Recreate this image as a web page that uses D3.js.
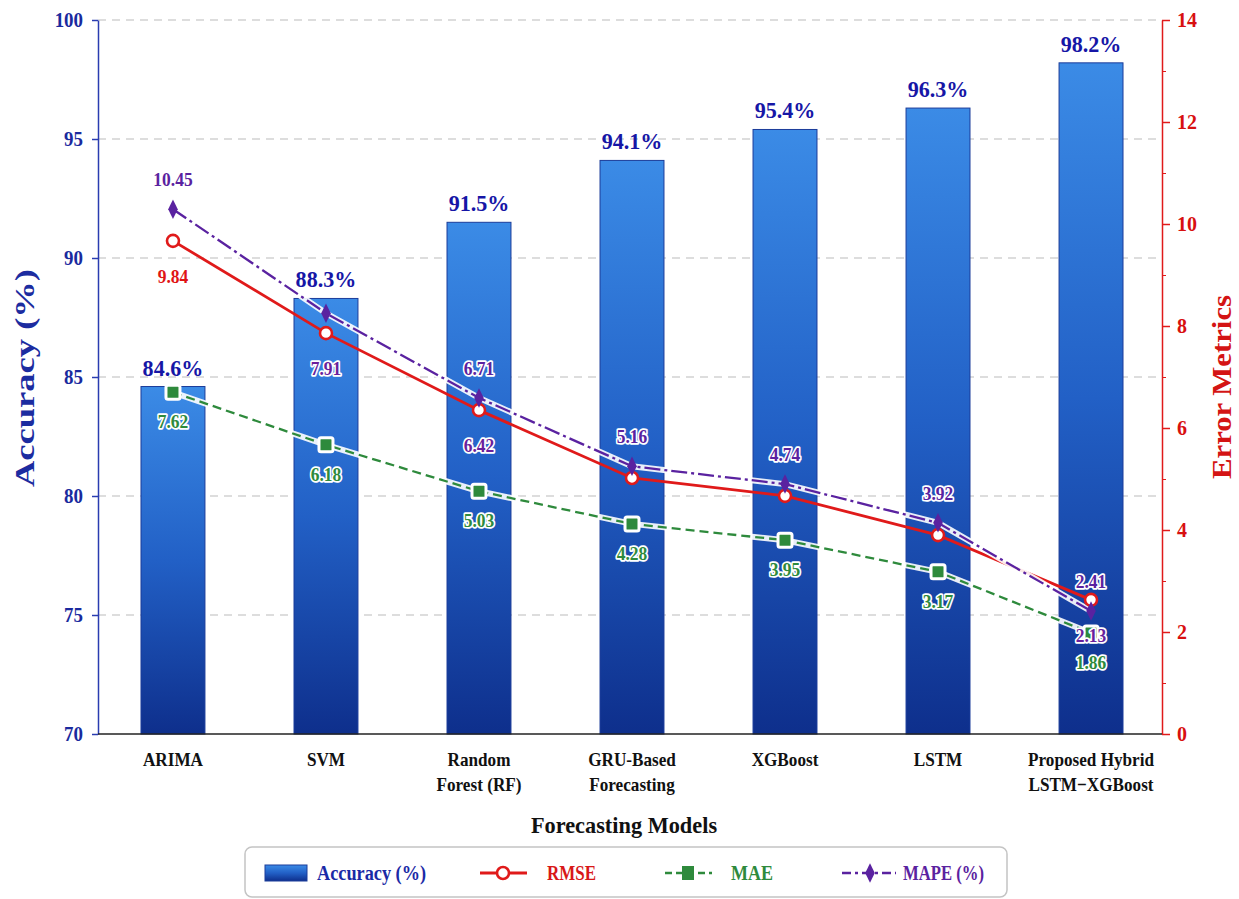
<!DOCTYPE html>
<html>
<head>
<meta charset="utf-8">
<script src="https://cdn.jsdelivr.net/npm/d3@7/dist/d3.min.js"></script>
<style>
  body { margin: 0; background: #fff; }
  text { font-family: "Liberation Serif", "Times New Roman", serif; }
</style>
</head>
<body>
<div id="container"></div>
<script>
// categories + values
var models = ["ARIMA", "SVM", "Random\nForest (RF)", "GRU-Based\nForecasting", "XGBoost", "LSTM", "Proposed Hybrid\nLSTM\u2212XGBoost"];
var accuracy = [84.6, 88.3, 91.5, 94.1, 95.4, 96.3, 98.2];
var rmse = [9.67, 7.86, 6.35, 5.02, 4.67, 3.90, 2.63];
var mae = [6.70, 5.67, 4.76, 4.12, 3.80, 3.18, 1.98];
var mape = [10.29, 8.25, 6.59, 5.25, 4.90, 4.14, 2.41];
// printed point labels (null = not shown)
var rmseLabels = ["9.84", "7.91", "6.42", null, null, null, "2.13"];
var maeLabels = ["7.62", "6.18", "5.03", "4.28", "3.95", "3.17", "1.86"];
var mapeLabels = ["10.45", null, "6.71", "5.16", "4.74", "3.92", "2.41"];
var accTicks = [70, 75, 80, 85, 90, 95, 100];
var errTicks = [0, 2, 4, 6, 8, 10, 12, 14];

(function () {
  var width = 1239, height = 899;
  var mLeft = 98, mRight = 1162, mTop = 20, mBottom = 734;

  var blue = "#1a2a9e", red = "#e01a1a", green = "#2e8a3c", purple = "#5a22a0";

  var svg = d3.select("#container").append("svg").attr("width", width).attr("height", height);

  // the original uses a narrow serif, squeeze glyphs a bit
  function condense(sel, f) {
    sel.each(function () {
      var w = this.getComputedTextLength();
      d3.select(this).attr("textLength", w * f).attr("lengthAdjust", "spacingAndGlyphs");
    });
  }

  var defs = svg.append("defs");
  var grad = defs.append("linearGradient").attr("id", "barGrad").attr("x1", 0).attr("y1", 0).attr("x2", 0).attr("y2", 1);
  grad.append("stop").attr("offset", "0%").attr("stop-color", "#3b8be6");
  grad.append("stop").attr("offset", "50%").attr("stop-color", "#2260c6");
  grad.append("stop").attr("offset", "100%").attr("stop-color", "#0e2f8c");

  var x = d3.scaleBand().domain(models).range([mLeft, 1166]).paddingInner(0.582).paddingOuter(0.281);
  var yL = d3.scaleLinear().domain([70, 100]).range([mBottom, mTop]);
  var yR = d3.scaleLinear().domain([0, 14]).range([mBottom, mTop]);
  var cx = function (i) { return x(models[i]) + x.bandwidth() / 2; };
  var idx = d3.range(models.length);

  // grid
  svg.append("g").selectAll("line").data(accTicks.slice(1)).enter().append("line")
    .attr("x1", mLeft).attr("x2", mRight)
    .attr("y1", function (d) { return yL(d); }).attr("y2", function (d) { return yL(d); })
    .attr("stroke", "#d2d2d2").attr("stroke-width", 1.3).attr("stroke-dasharray", "8,6");

  // bars
  svg.append("g").selectAll("rect").data(idx).enter().append("rect")
    .attr("x", function (i) { return x(models[i]); })
    .attr("y", function (i) { return yL(accuracy[i]); })
    .attr("width", x.bandwidth())
    .attr("height", function (i) { return mBottom - yL(accuracy[i]); })
    .attr("fill", "url(#barGrad)").attr("stroke", "#1b3c9a").attr("stroke-width", 1);

  svg.append("g").selectAll("text").data(idx).enter().append("text")
    .attr("x", cx).attr("y", function (i) { return yL(accuracy[i]) - 11; })
    .attr("text-anchor", "middle").attr("font-size", 24).attr("font-weight", "bold")
    .attr("fill", "#1616a6").text(function (i) { return accuracy[i].toFixed(1) + "%"; })
    .call(condense, 0.92);

  // axes
  var axL = svg.append("g").attr("transform", "translate(" + mLeft + ",0)")
    .call(d3.axisLeft(yL).tickValues(accTicks).tickSize(6).tickSizeOuter(0).tickPadding(9));
  axL.select(".domain").attr("stroke", "#2a3cb0").attr("stroke-width", 1.5);
  axL.selectAll(".tick line").attr("stroke", "#2a3cb0").attr("stroke-width", 1.5);
  axL.selectAll(".tick text").attr("fill", blue).attr("font-size", 21).attr("font-weight", "bold")
    .attr("font-family", "Liberation Serif, serif").call(condense, 0.9);

  var axR = svg.append("g").attr("transform", "translate(" + mRight + ",0)")
    .call(d3.axisRight(yR).tickValues(errTicks).tickSize(8).tickSizeOuter(0).tickPadding(7));
  axR.select(".domain").attr("stroke", red).attr("stroke-width", 1.5);
  axR.selectAll(".tick line").attr("stroke", red).attr("stroke-width", 1.5);
  axR.selectAll(".tick text").attr("fill", "#d81010").attr("font-size", 21).attr("font-weight", "bold")
    .attr("font-family", "Liberation Serif, serif").call(condense, 0.95);
  var minor = svg.append("g").attr("transform", "translate(" + mRight + ",0)")
    .call(d3.axisRight(yR).tickValues([1, 3, 5, 7, 9, 11, 13]).tickSize(4).tickFormat(""));
  minor.select(".domain").remove();
  minor.selectAll(".tick line").attr("stroke", red).attr("stroke-width", 1);

  // x axis
  svg.append("line").attr("x1", mLeft).attr("x2", mRight).attr("y1", mBottom).attr("y2", mBottom)
    .attr("stroke", "#222").attr("stroke-width", 1.6);
  svg.append("g").selectAll("text").data(idx).enter().append("text")
    .attr("text-anchor", "middle").attr("font-size", 19.5).attr("font-weight", "bold").attr("fill", "#111")
    .each(function (i) {
      var t = d3.select(this);
      models[i].split("\n").forEach(function (s, k) {
        t.append("tspan").attr("x", cx(i)).attr("y", 766 + k * 25).text(s);
      });
    })
    .selectAll("tspan").call(condense, 0.88);

  // titles
  svg.append("text").attr("x", 624).attr("y", 833).attr("text-anchor", "middle")
    .attr("font-size", 24).attr("font-weight", "bold").attr("fill", "#111").text("Forecasting Models")
    .call(condense, 0.93);
  svg.append("text").attr("transform", "translate(34,378) rotate(-90)").attr("text-anchor", "middle")
    .attr("font-size", 28).attr("font-weight", "bold").attr("fill", "#1c2ca0")
    .attr("textLength", 218).attr("lengthAdjust", "spacingAndGlyphs").text("Accuracy (%)");
  svg.append("text").attr("transform", "translate(1231,387) rotate(-90)").attr("text-anchor", "middle")
    .attr("font-size", 28).attr("font-weight", "bold").attr("fill", "#d41414")
    .attr("textLength", 184).attr("lengthAdjust", "spacingAndGlyphs").text("Error Metrics");

  // lines
  function lineFor(vals) {
    return d3.line().x(function (d, i) { return cx(i); }).y(function (d) { return yR(d); })(vals);
  }

  svg.append("path").attr("d", lineFor(rmse)).attr("fill", "none")
    .attr("stroke", red).attr("stroke-width", 2.8);

  svg.append("path").attr("d", lineFor(mae)).attr("fill", "none")
    .attr("stroke", "#fff").attr("stroke-width", 6).attr("stroke-opacity", 0.9);
  svg.append("path").attr("d", lineFor(mae)).attr("fill", "none")
    .attr("stroke", green).attr("stroke-width", 2.3).attr("stroke-dasharray", "9,5");

  svg.append("path").attr("d", lineFor(mape)).attr("fill", "none")
    .attr("stroke", "#fff").attr("stroke-width", 6).attr("stroke-opacity", 0.9);
  svg.append("path").attr("d", lineFor(mape)).attr("fill", "none")
    .attr("stroke", purple).attr("stroke-width", 2.3).attr("stroke-dasharray", "16,4,3,4");

  // markers
  svg.append("g").selectAll("circle").data(idx).enter().append("circle")
    .attr("cx", cx).attr("cy", function (i) { return yR(rmse[i]); }).attr("r", 6)
    .attr("fill", "#fff").attr("stroke", red).attr("stroke-width", 2.6);
  svg.append("g").selectAll("rect").data(idx).enter().append("rect")
    .attr("x", function (i) { return cx(i) - 7; }).attr("y", function (i) { return yR(mae[i]) - 7; })
    .attr("width", 14).attr("height", 14).attr("rx", 2)
    .attr("fill", green).attr("stroke", "#fff").attr("stroke-width", 3);
  var diamond = d3.symbol().type(d3.symbolDiamond).size(110);
  svg.append("g").selectAll("path").data(idx).enter().append("path")
    .attr("d", diamond)
    .attr("transform", function (i) { return "translate(" + cx(i) + "," + yR(mape[i]) + ") scale(0.85,1)"; })
    .attr("fill", purple);

  // point labels
  function pointLabels(vals, labels, dy, color) {
    svg.append("g").selectAll("text").data(idx.filter(function (i) { return labels[i] !== null; }))
      .enter().append("text")
      .attr("x", cx)
      .attr("y", function (i) { return yR(vals[i]) + dy; })
      .attr("text-anchor", "middle").attr("font-size", 19).attr("font-weight", "bold")
      .attr("fill", function (i) { return color(yR(vals[i]) + dy, i); })
      .attr("stroke", "#fff").attr("stroke-width", 3.5).attr("stroke-linejoin", "round")
      .attr("paint-order", "stroke")
      .text(function (i) { return labels[i]; })
      .call(condense, 0.92);
  }
  pointLabels(mape, mapeLabels, -23, function () { return purple; });
  pointLabels(rmse, rmseLabels, 42, function (yy, i) {
    // printed purple when sitting on a bar, red in open space
    return yy > yL(accuracy[i]) ? "#6a1f9c" : "#e01414";
  });
  pointLabels(mae, maeLabels, 36, function () { return green; });

  // legend
  var lg = svg.append("g");
  lg.append("rect").attr("x", 245).attr("y", 847).attr("width", 762).attr("height", 50).attr("rx", 7)
    .attr("fill", "#fff").attr("stroke", "#c4c4c4").attr("stroke-width", 1.5);
  var ly = 873;
  lg.append("rect").attr("x", 265).attr("y", ly - 8).attr("width", 42).attr("height", 16)
    .attr("fill", "url(#barGrad)").attr("stroke", "#1b3c9a");
  lg.append("line").attr("x1", 480).attr("x2", 527).attr("y1", ly).attr("y2", ly)
    .attr("stroke", red).attr("stroke-width", 2.8);
  lg.append("circle").attr("cx", 503).attr("cy", ly).attr("r", 6)
    .attr("fill", "#fff").attr("stroke", red).attr("stroke-width", 2.6);
  lg.append("line").attr("x1", 665).attr("x2", 712).attr("y1", ly).attr("y2", ly)
    .attr("stroke", green).attr("stroke-width", 2.3).attr("stroke-dasharray", "7,4");
  lg.append("rect").attr("x", 682).attr("y", ly - 7).attr("width", 12).attr("height", 14).attr("fill", green);
  lg.append("line").attr("x1", 842).attr("x2", 896).attr("y1", ly).attr("y2", ly)
    .attr("stroke", purple).attr("stroke-width", 2.3).attr("stroke-dasharray", "9,4,3,4");
  lg.append("path").attr("d", d3.symbol().type(d3.symbolDiamond).size(110))
    .attr("transform", "translate(870," + ly + ") scale(0.85,1)").attr("fill", purple);

  var legendItems = [["Accuracy (%)", 317, 109, "#1a2aa6"], ["RMSE", 547, 49, "#d81818"], ["MAE", 731, 42, green], ["MAPE (%)", 903, 81, purple]];
  legendItems.forEach(function (it) {
    lg.append("text").attr("x", it[1]).attr("y", ly + 7).attr("font-size", 20).attr("font-weight", "bold")
      .attr("textLength", it[2]).attr("lengthAdjust", "spacingAndGlyphs")
      .attr("fill", it[3]).text(it[0]);
  });
})();
</script>
</body>
</html>
